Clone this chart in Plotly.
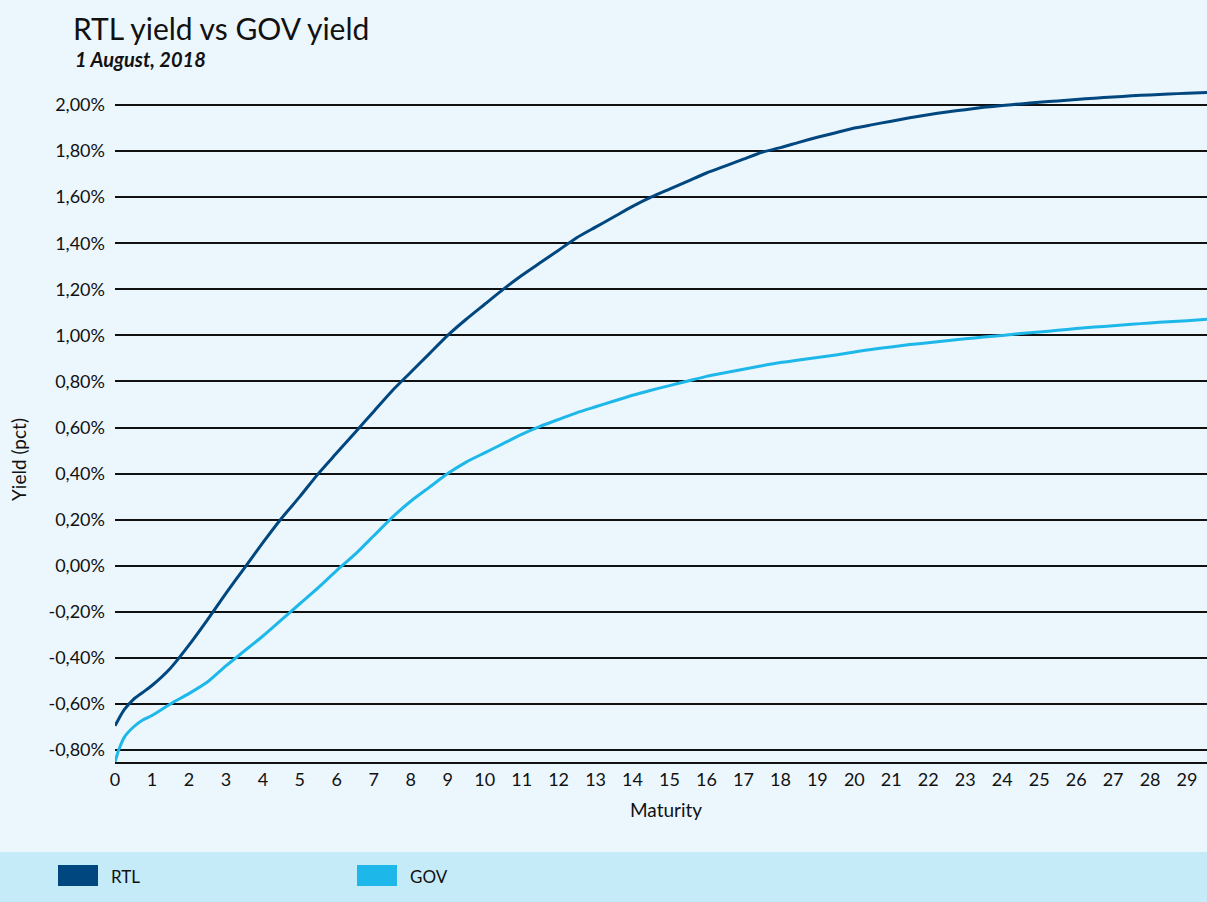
import plotly.graph_objects as go

# Maturity (years)
maturity = [0, 0.1, 0.25, 0.5, 0.75, 1, 1.5, 2, 2.5, 3, 3.5, 4, 4.5, 5, 5.5, 6, 6.5, 7, 7.5, 8,
            8.5, 9, 9.5, 10, 10.5, 11, 11.5, 12, 12.5, 13, 13.5, 14, 14.5, 15, 15.5, 16, 16.5,
            17, 17.5, 18, 18.5, 19, 19.5, 20, 20.5, 21, 21.5, 22, 22.5, 23, 23.5, 24, 24.5,
            25, 25.5, 26, 26.5, 27, 27.5, 28, 28.5, 29, 29.54]

rtl_yield = [-0.695, -0.665, -0.625, -0.58, -0.55, -0.52, -0.445, -0.345, -0.235, -0.12, -0.01,
             0.10, 0.205, 0.30, 0.40, 0.49, 0.58, 0.67, 0.76, 0.84, 0.92, 1.00, 1.07, 1.135,
             1.20, 1.26, 1.315, 1.37, 1.425, 1.47, 1.515, 1.56, 1.60, 1.635, 1.67, 1.705, 1.735,
             1.765, 1.795, 1.815, 1.838, 1.86, 1.88, 1.90, 1.915, 1.93, 1.945, 1.958, 1.97, 1.98,
             1.99, 1.998, 2.005, 2.012, 2.018, 2.024, 2.03, 2.035, 2.04, 2.044, 2.048, 2.051, 2.054]

gov_yield = [-0.852, -0.80, -0.745, -0.70, -0.67, -0.65, -0.60, -0.555, -0.505, -0.435, -0.37,
             -0.305, -0.235, -0.165, -0.095, -0.02, 0.05, 0.13, 0.21, 0.28, 0.34, 0.40, 0.45,
             0.49, 0.53, 0.57, 0.605, 0.635, 0.665, 0.69, 0.715, 0.74, 0.762, 0.782, 0.802, 0.822,
             0.838, 0.853, 0.868, 0.882, 0.893, 0.904, 0.915, 0.928, 0.94, 0.95, 0.96, 0.968,
             0.977, 0.985, 0.993, 1.00, 1.008, 1.015, 1.022, 1.03, 1.036, 1.042, 1.048, 1.054,
             1.059, 1.064, 1.07]

y_ticks = [-0.8, -0.6, -0.4, -0.2, 0.0, 0.2, 0.4, 0.6, 0.8, 1.0, 1.2, 1.4, 1.6, 1.8, 2.0]
y_ticklabels = [f"{v:.2f}".replace(".", ",") + "%" for v in y_ticks]
x_ticks = list(range(0, 30))

series_names = ["RTL", "GOV"]
series_colors = ["#00477F", "#1DB8E9"]

FONT = "Lato"
BG = "#ECF6FD"
BAND = "#C5EBF9"
INK = "#111111"

fig = go.Figure()
fig.add_trace(go.Scatter(x=maturity, y=rtl_yield, mode="lines", name=series_names[0],
                         line=dict(color=series_colors[0], width=3, shape="spline", smoothing=0.6),
                         showlegend=False))
fig.add_trace(go.Scatter(x=maturity, y=gov_yield, mode="lines", name=series_names[1],
                         line=dict(color=series_colors[1], width=3, shape="spline", smoothing=0.6),
                         showlegend=False))

L, B, PW, PH = 115, 762, 1092, 677


def px(xp):
    return (xp - L) / PW


def py(yp):
    return (B - yp) / PH


# legend band and custom legend
shapes = [dict(type="rect", xref="paper", yref="paper", x0=px(-20), x1=px(1230),
               y0=py(852), y1=py(920), fillcolor=BAND, line=dict(width=0), layer="below")]
annotations = []
legend_px = [58, 357]
for name, col, lx in zip(series_names, series_colors, legend_px):
    shapes.append(dict(type="rect", xref="paper", yref="paper", x0=px(lx), x1=px(lx + 40),
                       y0=py(886), y1=py(865), fillcolor=col, line=dict(width=0)))
    annotations.append(dict(xref="paper", yref="paper", x=px(lx + 51), y=py(876),
                            text=name, showarrow=False, xanchor="left", yanchor="middle",
                            font=dict(family=FONT, size=17, color=INK)))

annotations.append(dict(xref="paper", yref="paper", x=px(666), y=py(809),
                        text="Maturity", showarrow=False, xanchor="center", yanchor="middle",
                        font=dict(family=FONT, size=19, color=INK)))
annotations.append(dict(xref="paper", yref="paper", x=px(18), y=py(460),
                        text="Yield (pct)", showarrow=False, textangle=-90,
                        xanchor="center", yanchor="middle",
                        font=dict(family=FONT, size=19, color=INK)))
annotations.append(dict(xref="paper", yref="paper", x=px(71), y=py(28),
                        text="RTL yield vs GOV yield", showarrow=False, xanchor="left",
                        yanchor="middle", font=dict(family=FONT, size=30, color=INK)))
annotations.append(dict(xref="paper", yref="paper", x=px(73), y=py(59),
                        text="<b><i>1 August, 2018</i></b>", showarrow=False, xanchor="left",
                        yanchor="middle", font=dict(family=FONT, size=20, color=INK)))

fig.update_layout(
    width=1207, height=902,
    margin=dict(l=L, r=0, t=85, b=140),
    paper_bgcolor=BG, plot_bgcolor=BG,
    font=dict(family=FONT, size=18, color=INK),
    shapes=shapes, annotations=annotations,
    xaxis=dict(range=[0, 29.54], tickvals=x_ticks, ticktext=[str(v) for v in x_ticks],
               showgrid=False, zeroline=False, showline=True, linecolor=INK, linewidth=2,
               ticks="", tickfont=dict(family=FONT, size=18, color=INK)),
    yaxis=dict(range=[-0.852, 2.087], tickvals=y_ticks, ticktext=y_ticklabels,
               showgrid=True, gridcolor=INK, gridwidth=1.5, zeroline=False,
               showline=False, ticks="", ticklabelstandoff=9,
               tickfont=dict(family=FONT, size=18, color=INK)),
)

fig.write_html("out.html", config={"displayModeBar": False},
               post_script="document.body.style.margin='0';document.body.style.overflow='hidden';")
